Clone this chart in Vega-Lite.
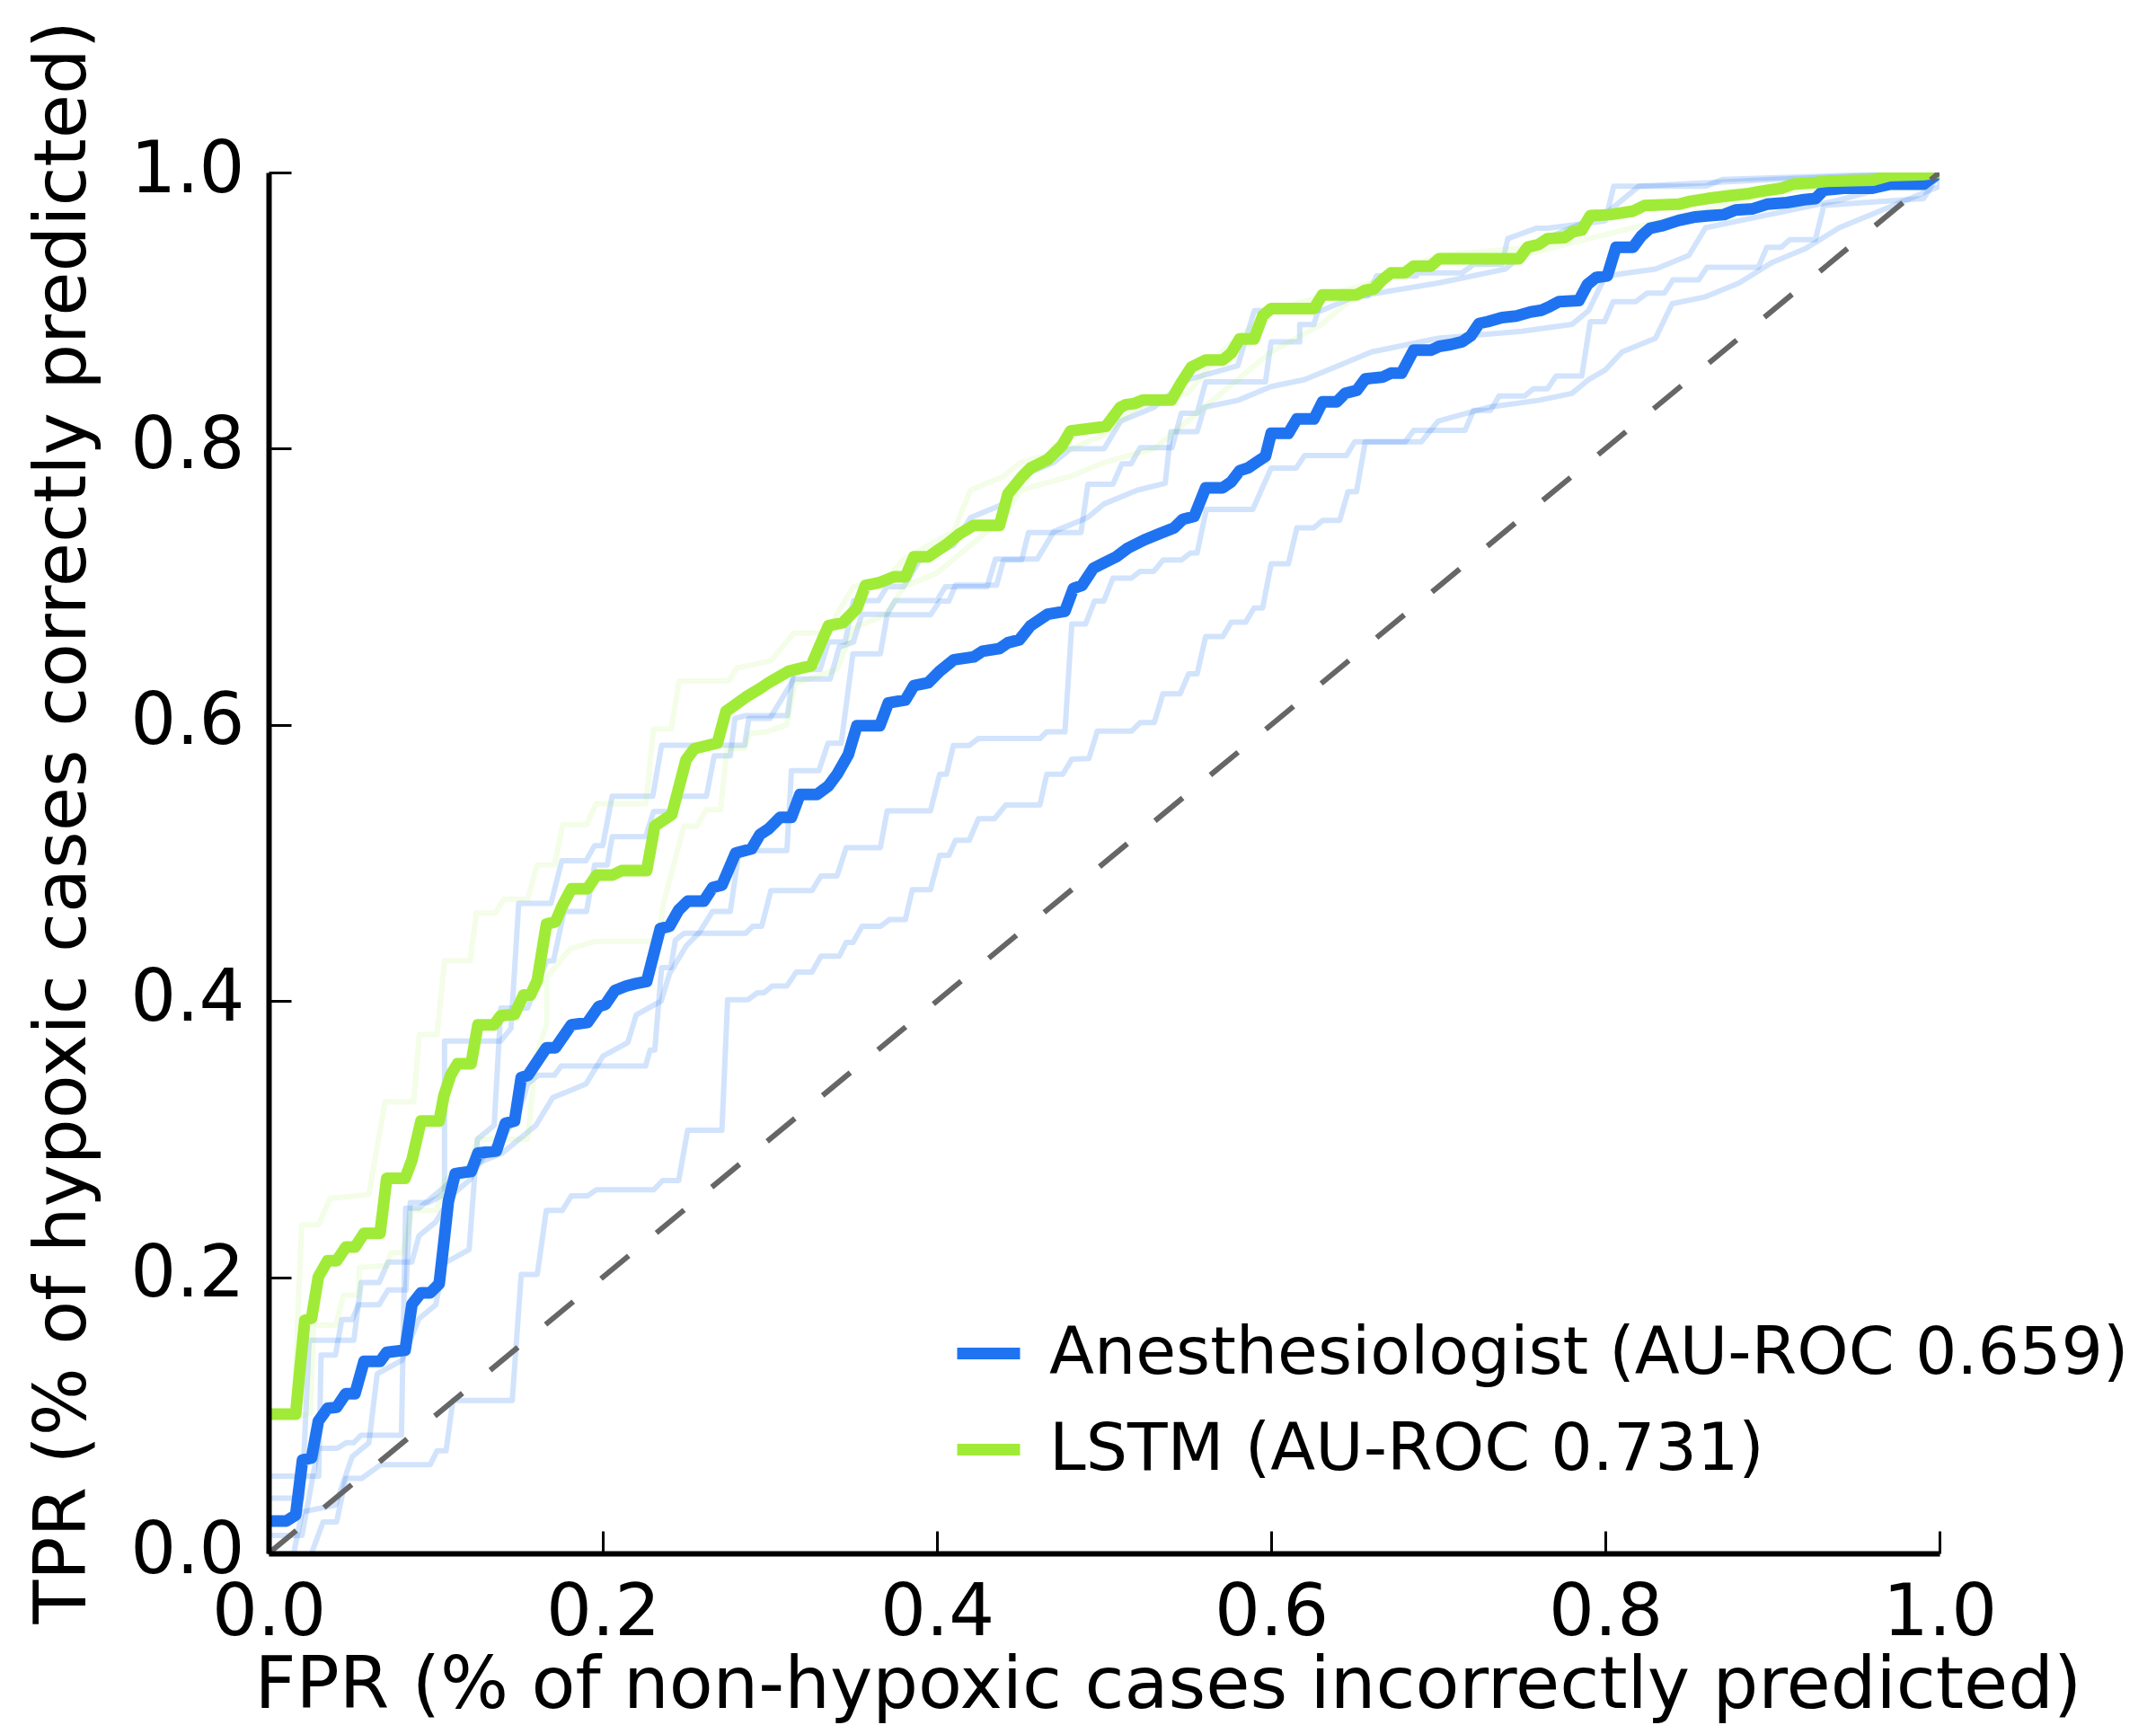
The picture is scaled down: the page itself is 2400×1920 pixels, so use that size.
{
  "$schema": "https://vega.github.io/schema/vega-lite/v6.json",
  "description": "ROC curves: anesthesiologists vs LSTM for hypoxaemia prediction",
  "width": 1860,
  "height": 1537,
  "autosize": {"type": "none"},
  "padding": {"left": 299, "top": 192, "right": 241, "bottom": 191},
  "background": "white",
  "config": {"view": {"stroke": null}, "font": "DejaVu Sans"},
  "datasets": {
    "main": [
      {"model": "Anesthesiologist (AU-ROC 0.659)", "fpr": 0, "tpr": 0.0235},
      {"model": "Anesthesiologist (AU-ROC 0.659)", "fpr": 0.0107, "tpr": 0.0235},
      {"model": "Anesthesiologist (AU-ROC 0.659)", "fpr": 0.0162, "tpr": 0.0278},
      {"model": "Anesthesiologist (AU-ROC 0.659)", "fpr": 0.0203, "tpr": 0.0676},
      {"model": "Anesthesiologist (AU-ROC 0.659)", "fpr": 0.0257, "tpr": 0.0692},
      {"model": "Anesthesiologist (AU-ROC 0.659)", "fpr": 0.0298, "tpr": 0.0958},
      {"model": "Anesthesiologist (AU-ROC 0.659)", "fpr": 0.0353, "tpr": 0.1051},
      {"model": "Anesthesiologist (AU-ROC 0.659)", "fpr": 0.0407, "tpr": 0.1058},
      {"model": "Anesthesiologist (AU-ROC 0.659)", "fpr": 0.0462, "tpr": 0.1157},
      {"model": "Anesthesiologist (AU-ROC 0.659)", "fpr": 0.0517, "tpr": 0.1157},
      {"model": "Anesthesiologist (AU-ROC 0.659)", "fpr": 0.0571, "tpr": 0.139},
      {"model": "Anesthesiologist (AU-ROC 0.659)", "fpr": 0.0667, "tpr": 0.139},
      {"model": "Anesthesiologist (AU-ROC 0.659)", "fpr": 0.0707, "tpr": 0.1456},
      {"model": "Anesthesiologist (AU-ROC 0.659)", "fpr": 0.0817, "tpr": 0.1472},
      {"model": "Anesthesiologist (AU-ROC 0.659)", "fpr": 0.0858, "tpr": 0.1804},
      {"model": "Anesthesiologist (AU-ROC 0.659)", "fpr": 0.0912, "tpr": 0.1887},
      {"model": "Anesthesiologist (AU-ROC 0.659)", "fpr": 0.0967, "tpr": 0.1887},
      {"model": "Anesthesiologist (AU-ROC 0.659)", "fpr": 0.1021, "tpr": 0.1953},
      {"model": "Anesthesiologist (AU-ROC 0.659)", "fpr": 0.1049, "tpr": 0.2252},
      {"model": "Anesthesiologist (AU-ROC 0.659)", "fpr": 0.1076, "tpr": 0.255},
      {"model": "Anesthesiologist (AU-ROC 0.659)", "fpr": 0.1117, "tpr": 0.275},
      {"model": "Anesthesiologist (AU-ROC 0.659)", "fpr": 0.1212, "tpr": 0.2766},
      {"model": "Anesthesiologist (AU-ROC 0.659)", "fpr": 0.1253, "tpr": 0.2899},
      {"model": "Anesthesiologist (AU-ROC 0.659)", "fpr": 0.1363, "tpr": 0.2915},
      {"model": "Anesthesiologist (AU-ROC 0.659)", "fpr": 0.1417, "tpr": 0.3114},
      {"model": "Anesthesiologist (AU-ROC 0.659)", "fpr": 0.1472, "tpr": 0.3131},
      {"model": "Anesthesiologist (AU-ROC 0.659)", "fpr": 0.1512, "tpr": 0.3446},
      {"model": "Anesthesiologist (AU-ROC 0.659)", "fpr": 0.1553, "tpr": 0.3463},
      {"model": "Anesthesiologist (AU-ROC 0.659)", "fpr": 0.1663, "tpr": 0.3662},
      {"model": "Anesthesiologist (AU-ROC 0.659)", "fpr": 0.1717, "tpr": 0.3662},
      {"model": "Anesthesiologist (AU-ROC 0.659)", "fpr": 0.1812, "tpr": 0.3828},
      {"model": "Anesthesiologist (AU-ROC 0.659)", "fpr": 0.1908, "tpr": 0.3844},
      {"model": "Anesthesiologist (AU-ROC 0.659)", "fpr": 0.1976, "tpr": 0.396},
      {"model": "Anesthesiologist (AU-ROC 0.659)", "fpr": 0.2017, "tpr": 0.3977},
      {"model": "Anesthesiologist (AU-ROC 0.659)", "fpr": 0.2072, "tpr": 0.4076},
      {"model": "Anesthesiologist (AU-ROC 0.659)", "fpr": 0.214, "tpr": 0.4109},
      {"model": "Anesthesiologist (AU-ROC 0.659)", "fpr": 0.2195, "tpr": 0.4126},
      {"model": "Anesthesiologist (AU-ROC 0.659)", "fpr": 0.2263, "tpr": 0.4142},
      {"model": "Anesthesiologist (AU-ROC 0.659)", "fpr": 0.2344, "tpr": 0.4524},
      {"model": "Anesthesiologist (AU-ROC 0.659)", "fpr": 0.2399, "tpr": 0.4541},
      {"model": "Anesthesiologist (AU-ROC 0.659)", "fpr": 0.2453, "tpr": 0.4657},
      {"model": "Anesthesiologist (AU-ROC 0.659)", "fpr": 0.2508, "tpr": 0.4723},
      {"model": "Anesthesiologist (AU-ROC 0.659)", "fpr": 0.2604, "tpr": 0.4723},
      {"model": "Anesthesiologist (AU-ROC 0.659)", "fpr": 0.2658, "tpr": 0.4823},
      {"model": "Anesthesiologist (AU-ROC 0.659)", "fpr": 0.2713, "tpr": 0.4839},
      {"model": "Anesthesiologist (AU-ROC 0.659)", "fpr": 0.2795, "tpr": 0.5072},
      {"model": "Anesthesiologist (AU-ROC 0.659)", "fpr": 0.289, "tpr": 0.5102},
      {"model": "Anesthesiologist (AU-ROC 0.659)", "fpr": 0.2941, "tpr": 0.5206},
      {"model": "Anesthesiologist (AU-ROC 0.659)", "fpr": 0.2993, "tpr": 0.5247},
      {"model": "Anesthesiologist (AU-ROC 0.659)", "fpr": 0.3061, "tpr": 0.533},
      {"model": "Anesthesiologist (AU-ROC 0.659)", "fpr": 0.3129, "tpr": 0.533},
      {"model": "Anesthesiologist (AU-ROC 0.659)", "fpr": 0.318, "tpr": 0.5496},
      {"model": "Anesthesiologist (AU-ROC 0.659)", "fpr": 0.3282, "tpr": 0.5496},
      {"model": "Anesthesiologist (AU-ROC 0.659)", "fpr": 0.3351, "tpr": 0.5558},
      {"model": "Anesthesiologist (AU-ROC 0.659)", "fpr": 0.3402, "tpr": 0.5641},
      {"model": "Anesthesiologist (AU-ROC 0.659)", "fpr": 0.347, "tpr": 0.5786},
      {"model": "Anesthesiologist (AU-ROC 0.659)", "fpr": 0.3521, "tpr": 0.5994},
      {"model": "Anesthesiologist (AU-ROC 0.659)", "fpr": 0.3658, "tpr": 0.5994},
      {"model": "Anesthesiologist (AU-ROC 0.659)", "fpr": 0.3709, "tpr": 0.6159},
      {"model": "Anesthesiologist (AU-ROC 0.659)", "fpr": 0.3811, "tpr": 0.618},
      {"model": "Anesthesiologist (AU-ROC 0.659)", "fpr": 0.3862, "tpr": 0.6284},
      {"model": "Anesthesiologist (AU-ROC 0.659)", "fpr": 0.3948, "tpr": 0.6305},
      {"model": "Anesthesiologist (AU-ROC 0.659)", "fpr": 0.4016, "tpr": 0.6388},
      {"model": "Anesthesiologist (AU-ROC 0.659)", "fpr": 0.4101, "tpr": 0.6471},
      {"model": "Anesthesiologist (AU-ROC 0.659)", "fpr": 0.422, "tpr": 0.6492},
      {"model": "Anesthesiologist (AU-ROC 0.659)", "fpr": 0.4272, "tpr": 0.6533},
      {"model": "Anesthesiologist (AU-ROC 0.659)", "fpr": 0.4374, "tpr": 0.6553},
      {"model": "Anesthesiologist (AU-ROC 0.659)", "fpr": 0.4425, "tpr": 0.6595},
      {"model": "Anesthesiologist (AU-ROC 0.659)", "fpr": 0.4493, "tpr": 0.6616},
      {"model": "Anesthesiologist (AU-ROC 0.659)", "fpr": 0.4561, "tpr": 0.6719},
      {"model": "Anesthesiologist (AU-ROC 0.659)", "fpr": 0.4664, "tpr": 0.6802},
      {"model": "Anesthesiologist (AU-ROC 0.659)", "fpr": 0.4766, "tpr": 0.6823},
      {"model": "Anesthesiologist (AU-ROC 0.659)", "fpr": 0.4817, "tpr": 0.6989},
      {"model": "Anesthesiologist (AU-ROC 0.659)", "fpr": 0.4868, "tpr": 0.701},
      {"model": "Anesthesiologist (AU-ROC 0.659)", "fpr": 0.4936, "tpr": 0.7134},
      {"model": "Anesthesiologist (AU-ROC 0.659)", "fpr": 0.5005, "tpr": 0.7176},
      {"model": "Anesthesiologist (AU-ROC 0.659)", "fpr": 0.5073, "tpr": 0.7217},
      {"model": "Anesthesiologist (AU-ROC 0.659)", "fpr": 0.5141, "tpr": 0.7279},
      {"model": "Anesthesiologist (AU-ROC 0.659)", "fpr": 0.5243, "tpr": 0.7341},
      {"model": "Anesthesiologist (AU-ROC 0.659)", "fpr": 0.5335, "tpr": 0.7386},
      {"model": "Anesthesiologist (AU-ROC 0.659)", "fpr": 0.542, "tpr": 0.7427},
      {"model": "Anesthesiologist (AU-ROC 0.659)", "fpr": 0.5472, "tpr": 0.7489},
      {"model": "Anesthesiologist (AU-ROC 0.659)", "fpr": 0.554, "tpr": 0.751},
      {"model": "Anesthesiologist (AU-ROC 0.659)", "fpr": 0.5608, "tpr": 0.7717},
      {"model": "Anesthesiologist (AU-ROC 0.659)", "fpr": 0.571, "tpr": 0.7717},
      {"model": "Anesthesiologist (AU-ROC 0.659)", "fpr": 0.5761, "tpr": 0.7759},
      {"model": "Anesthesiologist (AU-ROC 0.659)", "fpr": 0.5812, "tpr": 0.7841},
      {"model": "Anesthesiologist (AU-ROC 0.659)", "fpr": 0.5864, "tpr": 0.7862},
      {"model": "Anesthesiologist (AU-ROC 0.659)", "fpr": 0.5915, "tpr": 0.7904},
      {"model": "Anesthesiologist (AU-ROC 0.659)", "fpr": 0.5966, "tpr": 0.7945},
      {"model": "Anesthesiologist (AU-ROC 0.659)", "fpr": 0.6, "tpr": 0.8111},
      {"model": "Anesthesiologist (AU-ROC 0.659)", "fpr": 0.6103, "tpr": 0.8111},
      {"model": "Anesthesiologist (AU-ROC 0.659)", "fpr": 0.6154, "tpr": 0.8215},
      {"model": "Anesthesiologist (AU-ROC 0.659)", "fpr": 0.6256, "tpr": 0.8215},
      {"model": "Anesthesiologist (AU-ROC 0.659)", "fpr": 0.6307, "tpr": 0.8339},
      {"model": "Anesthesiologist (AU-ROC 0.659)", "fpr": 0.6393, "tpr": 0.8339},
      {"model": "Anesthesiologist (AU-ROC 0.659)", "fpr": 0.6443, "tpr": 0.8401},
      {"model": "Anesthesiologist (AU-ROC 0.659)", "fpr": 0.6512, "tpr": 0.8422},
      {"model": "Anesthesiologist (AU-ROC 0.659)", "fpr": 0.6563, "tpr": 0.8505},
      {"model": "Anesthesiologist (AU-ROC 0.659)", "fpr": 0.6665, "tpr": 0.8518},
      {"model": "Anesthesiologist (AU-ROC 0.659)", "fpr": 0.6717, "tpr": 0.8547},
      {"model": "Anesthesiologist (AU-ROC 0.659)", "fpr": 0.678, "tpr": 0.8547},
      {"model": "Anesthesiologist (AU-ROC 0.659)", "fpr": 0.6853, "tpr": 0.8713},
      {"model": "Anesthesiologist (AU-ROC 0.659)", "fpr": 0.6955, "tpr": 0.8713},
      {"model": "Anesthesiologist (AU-ROC 0.659)", "fpr": 0.7006, "tpr": 0.8741},
      {"model": "Anesthesiologist (AU-ROC 0.659)", "fpr": 0.7074, "tpr": 0.8754},
      {"model": "Anesthesiologist (AU-ROC 0.659)", "fpr": 0.7143, "tpr": 0.8774},
      {"model": "Anesthesiologist (AU-ROC 0.659)", "fpr": 0.7194, "tpr": 0.8816},
      {"model": "Anesthesiologist (AU-ROC 0.659)", "fpr": 0.7245, "tpr": 0.8907},
      {"model": "Anesthesiologist (AU-ROC 0.659)", "fpr": 0.7296, "tpr": 0.892},
      {"model": "Anesthesiologist (AU-ROC 0.659)", "fpr": 0.7381, "tpr": 0.8949},
      {"model": "Anesthesiologist (AU-ROC 0.659)", "fpr": 0.7467, "tpr": 0.8961},
      {"model": "Anesthesiologist (AU-ROC 0.659)", "fpr": 0.7552, "tpr": 0.899},
      {"model": "Anesthesiologist (AU-ROC 0.659)", "fpr": 0.762, "tpr": 0.9003},
      {"model": "Anesthesiologist (AU-ROC 0.659)", "fpr": 0.7671, "tpr": 0.9032},
      {"model": "Anesthesiologist (AU-ROC 0.659)", "fpr": 0.7722, "tpr": 0.9065},
      {"model": "Anesthesiologist (AU-ROC 0.659)", "fpr": 0.7842, "tpr": 0.9073},
      {"model": "Anesthesiologist (AU-ROC 0.659)", "fpr": 0.7893, "tpr": 0.9189},
      {"model": "Anesthesiologist (AU-ROC 0.659)", "fpr": 0.7944, "tpr": 0.9239},
      {"model": "Anesthesiologist (AU-ROC 0.659)", "fpr": 0.8012, "tpr": 0.9252},
      {"model": "Anesthesiologist (AU-ROC 0.659)", "fpr": 0.8064, "tpr": 0.9459},
      {"model": "Anesthesiologist (AU-ROC 0.659)", "fpr": 0.8166, "tpr": 0.9459},
      {"model": "Anesthesiologist (AU-ROC 0.659)", "fpr": 0.8217, "tpr": 0.9542},
      {"model": "Anesthesiologist (AU-ROC 0.659)", "fpr": 0.8268, "tpr": 0.9596},
      {"model": "Anesthesiologist (AU-ROC 0.659)", "fpr": 0.8336, "tpr": 0.9613},
      {"model": "Anesthesiologist (AU-ROC 0.659)", "fpr": 0.8439, "tpr": 0.9653},
      {"model": "Anesthesiologist (AU-ROC 0.659)", "fpr": 0.854, "tpr": 0.9678},
      {"model": "Anesthesiologist (AU-ROC 0.659)", "fpr": 0.8609, "tpr": 0.9686},
      {"model": "Anesthesiologist (AU-ROC 0.659)", "fpr": 0.871, "tpr": 0.9695},
      {"model": "Anesthesiologist (AU-ROC 0.659)", "fpr": 0.8779, "tpr": 0.9728},
      {"model": "Anesthesiologist (AU-ROC 0.659)", "fpr": 0.8882, "tpr": 0.9737},
      {"model": "Anesthesiologist (AU-ROC 0.659)", "fpr": 0.8967, "tpr": 0.977},
      {"model": "Anesthesiologist (AU-ROC 0.659)", "fpr": 0.9087, "tpr": 0.9782},
      {"model": "Anesthesiologist (AU-ROC 0.659)", "fpr": 0.9189, "tpr": 0.9803},
      {"model": "Anesthesiologist (AU-ROC 0.659)", "fpr": 0.9257, "tpr": 0.9811},
      {"model": "Anesthesiologist (AU-ROC 0.659)", "fpr": 0.9308, "tpr": 0.9873},
      {"model": "Anesthesiologist (AU-ROC 0.659)", "fpr": 0.9428, "tpr": 0.9886},
      {"model": "Anesthesiologist (AU-ROC 0.659)", "fpr": 0.9598, "tpr": 0.9886},
      {"model": "Anesthesiologist (AU-ROC 0.659)", "fpr": 0.97, "tpr": 0.9915},
      {"model": "Anesthesiologist (AU-ROC 0.659)", "fpr": 0.9905, "tpr": 0.9915},
      {"model": "Anesthesiologist (AU-ROC 0.659)", "fpr": 1, "tpr": 1},
      {"model": "LSTM (AU-ROC 0.731)", "fpr": 0, "tpr": 0.1008},
      {"model": "LSTM (AU-ROC 0.731)", "fpr": 0.0162, "tpr": 0.1008},
      {"model": "LSTM (AU-ROC 0.731)", "fpr": 0.0189, "tpr": 0.1356},
      {"model": "LSTM (AU-ROC 0.731)", "fpr": 0.0217, "tpr": 0.1688},
      {"model": "LSTM (AU-ROC 0.731)", "fpr": 0.0257, "tpr": 0.1704},
      {"model": "LSTM (AU-ROC 0.731)", "fpr": 0.0298, "tpr": 0.2003},
      {"model": "LSTM (AU-ROC 0.731)", "fpr": 0.0353, "tpr": 0.2119},
      {"model": "LSTM (AU-ROC 0.731)", "fpr": 0.0407, "tpr": 0.2119},
      {"model": "LSTM (AU-ROC 0.731)", "fpr": 0.0462, "tpr": 0.2218},
      {"model": "LSTM (AU-ROC 0.731)", "fpr": 0.0517, "tpr": 0.2218},
      {"model": "LSTM (AU-ROC 0.731)", "fpr": 0.0571, "tpr": 0.2318},
      {"model": "LSTM (AU-ROC 0.731)", "fpr": 0.0667, "tpr": 0.2318},
      {"model": "LSTM (AU-ROC 0.731)", "fpr": 0.0707, "tpr": 0.2716},
      {"model": "LSTM (AU-ROC 0.731)", "fpr": 0.0817, "tpr": 0.2716},
      {"model": "LSTM (AU-ROC 0.731)", "fpr": 0.0858, "tpr": 0.2849},
      {"model": "LSTM (AU-ROC 0.731)", "fpr": 0.0912, "tpr": 0.3131},
      {"model": "LSTM (AU-ROC 0.731)", "fpr": 0.1021, "tpr": 0.3131},
      {"model": "LSTM (AU-ROC 0.731)", "fpr": 0.1049, "tpr": 0.3313},
      {"model": "LSTM (AU-ROC 0.731)", "fpr": 0.1089, "tpr": 0.3463},
      {"model": "LSTM (AU-ROC 0.731)", "fpr": 0.113, "tpr": 0.3546},
      {"model": "LSTM (AU-ROC 0.731)", "fpr": 0.1212, "tpr": 0.3546},
      {"model": "LSTM (AU-ROC 0.731)", "fpr": 0.1253, "tpr": 0.3828},
      {"model": "LSTM (AU-ROC 0.731)", "fpr": 0.1349, "tpr": 0.3828},
      {"model": "LSTM (AU-ROC 0.731)", "fpr": 0.139, "tpr": 0.3894},
      {"model": "LSTM (AU-ROC 0.731)", "fpr": 0.1472, "tpr": 0.3904},
      {"model": "LSTM (AU-ROC 0.731)", "fpr": 0.1526, "tpr": 0.4043},
      {"model": "LSTM (AU-ROC 0.731)", "fpr": 0.1567, "tpr": 0.4043},
      {"model": "LSTM (AU-ROC 0.731)", "fpr": 0.1608, "tpr": 0.415},
      {"model": "LSTM (AU-ROC 0.731)", "fpr": 0.1663, "tpr": 0.4557},
      {"model": "LSTM (AU-ROC 0.731)", "fpr": 0.1717, "tpr": 0.4574},
      {"model": "LSTM (AU-ROC 0.731)", "fpr": 0.1758, "tpr": 0.469},
      {"model": "LSTM (AU-ROC 0.731)", "fpr": 0.1812, "tpr": 0.4813},
      {"model": "LSTM (AU-ROC 0.731)", "fpr": 0.1908, "tpr": 0.4813},
      {"model": "LSTM (AU-ROC 0.731)", "fpr": 0.1963, "tpr": 0.4912},
      {"model": "LSTM (AU-ROC 0.731)", "fpr": 0.2058, "tpr": 0.4912},
      {"model": "LSTM (AU-ROC 0.731)", "fpr": 0.2113, "tpr": 0.4945},
      {"model": "LSTM (AU-ROC 0.731)", "fpr": 0.2263, "tpr": 0.4945},
      {"model": "LSTM (AU-ROC 0.731)", "fpr": 0.2311, "tpr": 0.5268},
      {"model": "LSTM (AU-ROC 0.731)", "fpr": 0.2413, "tpr": 0.5351},
      {"model": "LSTM (AU-ROC 0.731)", "fpr": 0.2498, "tpr": 0.5745},
      {"model": "LSTM (AU-ROC 0.731)", "fpr": 0.2549, "tpr": 0.5828},
      {"model": "LSTM (AU-ROC 0.731)", "fpr": 0.2686, "tpr": 0.5869},
      {"model": "LSTM (AU-ROC 0.731)", "fpr": 0.2737, "tpr": 0.6097},
      {"model": "LSTM (AU-ROC 0.731)", "fpr": 0.2856, "tpr": 0.6201},
      {"model": "LSTM (AU-ROC 0.731)", "fpr": 0.2941, "tpr": 0.6263},
      {"model": "LSTM (AU-ROC 0.731)", "fpr": 0.2993, "tpr": 0.6305},
      {"model": "LSTM (AU-ROC 0.731)", "fpr": 0.3112, "tpr": 0.6388},
      {"model": "LSTM (AU-ROC 0.731)", "fpr": 0.3248, "tpr": 0.6429},
      {"model": "LSTM (AU-ROC 0.731)", "fpr": 0.3299, "tpr": 0.6574},
      {"model": "LSTM (AU-ROC 0.731)", "fpr": 0.3351, "tpr": 0.6719},
      {"model": "LSTM (AU-ROC 0.731)", "fpr": 0.3436, "tpr": 0.674},
      {"model": "LSTM (AU-ROC 0.731)", "fpr": 0.3521, "tpr": 0.6844},
      {"model": "LSTM (AU-ROC 0.731)", "fpr": 0.3572, "tpr": 0.701},
      {"model": "LSTM (AU-ROC 0.731)", "fpr": 0.3658, "tpr": 0.7031},
      {"model": "LSTM (AU-ROC 0.731)", "fpr": 0.3743, "tpr": 0.7072},
      {"model": "LSTM (AU-ROC 0.731)", "fpr": 0.3811, "tpr": 0.7072},
      {"model": "LSTM (AU-ROC 0.731)", "fpr": 0.3862, "tpr": 0.7217},
      {"model": "LSTM (AU-ROC 0.731)", "fpr": 0.3948, "tpr": 0.7217},
      {"model": "LSTM (AU-ROC 0.731)", "fpr": 0.3998, "tpr": 0.7259},
      {"model": "LSTM (AU-ROC 0.731)", "fpr": 0.405, "tpr": 0.73},
      {"model": "LSTM (AU-ROC 0.731)", "fpr": 0.4135, "tpr": 0.7383},
      {"model": "LSTM (AU-ROC 0.731)", "fpr": 0.422, "tpr": 0.7445},
      {"model": "LSTM (AU-ROC 0.731)", "fpr": 0.4374, "tpr": 0.7445},
      {"model": "LSTM (AU-ROC 0.731)", "fpr": 0.4425, "tpr": 0.7673},
      {"model": "LSTM (AU-ROC 0.731)", "fpr": 0.451, "tpr": 0.7798},
      {"model": "LSTM (AU-ROC 0.731)", "fpr": 0.4561, "tpr": 0.786},
      {"model": "LSTM (AU-ROC 0.731)", "fpr": 0.4664, "tpr": 0.7922},
      {"model": "LSTM (AU-ROC 0.731)", "fpr": 0.4749, "tpr": 0.8025},
      {"model": "LSTM (AU-ROC 0.731)", "fpr": 0.48, "tpr": 0.8129},
      {"model": "LSTM (AU-ROC 0.731)", "fpr": 0.4936, "tpr": 0.815},
      {"model": "LSTM (AU-ROC 0.731)", "fpr": 0.5011, "tpr": 0.8161},
      {"model": "LSTM (AU-ROC 0.731)", "fpr": 0.5096, "tpr": 0.8298},
      {"model": "LSTM (AU-ROC 0.731)", "fpr": 0.5131, "tpr": 0.8319},
      {"model": "LSTM (AU-ROC 0.731)", "fpr": 0.5182, "tpr": 0.8327},
      {"model": "LSTM (AU-ROC 0.731)", "fpr": 0.5233, "tpr": 0.8352},
      {"model": "LSTM (AU-ROC 0.731)", "fpr": 0.5403, "tpr": 0.8352},
      {"model": "LSTM (AU-ROC 0.731)", "fpr": 0.5455, "tpr": 0.8464},
      {"model": "LSTM (AU-ROC 0.731)", "fpr": 0.5523, "tpr": 0.8591},
      {"model": "LSTM (AU-ROC 0.731)", "fpr": 0.5608, "tpr": 0.8642},
      {"model": "LSTM (AU-ROC 0.731)", "fpr": 0.571, "tpr": 0.8642},
      {"model": "LSTM (AU-ROC 0.731)", "fpr": 0.5761, "tpr": 0.8692},
      {"model": "LSTM (AU-ROC 0.731)", "fpr": 0.5812, "tpr": 0.8795},
      {"model": "LSTM (AU-ROC 0.731)", "fpr": 0.5898, "tpr": 0.8795},
      {"model": "LSTM (AU-ROC 0.731)", "fpr": 0.5949, "tpr": 0.8961},
      {"model": "LSTM (AU-ROC 0.731)", "fpr": 0.6, "tpr": 0.9015},
      {"model": "LSTM (AU-ROC 0.731)", "fpr": 0.6256, "tpr": 0.9015},
      {"model": "LSTM (AU-ROC 0.731)", "fpr": 0.6307, "tpr": 0.9114},
      {"model": "LSTM (AU-ROC 0.731)", "fpr": 0.6512, "tpr": 0.9114},
      {"model": "LSTM (AU-ROC 0.731)", "fpr": 0.6563, "tpr": 0.9147},
      {"model": "LSTM (AU-ROC 0.731)", "fpr": 0.6614, "tpr": 0.9156},
      {"model": "LSTM (AU-ROC 0.731)", "fpr": 0.6665, "tpr": 0.9222},
      {"model": "LSTM (AU-ROC 0.731)", "fpr": 0.6717, "tpr": 0.9273},
      {"model": "LSTM (AU-ROC 0.731)", "fpr": 0.6801, "tpr": 0.9273},
      {"model": "LSTM (AU-ROC 0.731)", "fpr": 0.6853, "tpr": 0.9322},
      {"model": "LSTM (AU-ROC 0.731)", "fpr": 0.6955, "tpr": 0.9322},
      {"model": "LSTM (AU-ROC 0.731)", "fpr": 0.7006, "tpr": 0.9376},
      {"model": "LSTM (AU-ROC 0.731)", "fpr": 0.7484, "tpr": 0.9376},
      {"model": "LSTM (AU-ROC 0.731)", "fpr": 0.7535, "tpr": 0.9459},
      {"model": "LSTM (AU-ROC 0.731)", "fpr": 0.7603, "tpr": 0.948},
      {"model": "LSTM (AU-ROC 0.731)", "fpr": 0.7654, "tpr": 0.9521},
      {"model": "LSTM (AU-ROC 0.731)", "fpr": 0.7757, "tpr": 0.9529},
      {"model": "LSTM (AU-ROC 0.731)", "fpr": 0.7807, "tpr": 0.9571},
      {"model": "LSTM (AU-ROC 0.731)", "fpr": 0.7859, "tpr": 0.9583},
      {"model": "LSTM (AU-ROC 0.731)", "fpr": 0.791, "tpr": 0.9687},
      {"model": "LSTM (AU-ROC 0.731)", "fpr": 0.8029, "tpr": 0.9695},
      {"model": "LSTM (AU-ROC 0.731)", "fpr": 0.8166, "tpr": 0.972},
      {"model": "LSTM (AU-ROC 0.731)", "fpr": 0.8234, "tpr": 0.9761},
      {"model": "LSTM (AU-ROC 0.731)", "fpr": 0.8439, "tpr": 0.977},
      {"model": "LSTM (AU-ROC 0.731)", "fpr": 0.8507, "tpr": 0.9791},
      {"model": "LSTM (AU-ROC 0.731)", "fpr": 0.8609, "tpr": 0.9811},
      {"model": "LSTM (AU-ROC 0.731)", "fpr": 0.8746, "tpr": 0.9832},
      {"model": "LSTM (AU-ROC 0.731)", "fpr": 0.8848, "tpr": 0.9845},
      {"model": "LSTM (AU-ROC 0.731)", "fpr": 0.8916, "tpr": 0.9861},
      {"model": "LSTM (AU-ROC 0.731)", "fpr": 0.9053, "tpr": 0.9886},
      {"model": "LSTM (AU-ROC 0.731)", "fpr": 0.9121, "tpr": 0.9915},
      {"model": "LSTM (AU-ROC 0.731)", "fpr": 0.9257, "tpr": 0.9927},
      {"model": "LSTM (AU-ROC 0.731)", "fpr": 0.9325, "tpr": 0.9936},
      {"model": "LSTM (AU-ROC 0.731)", "fpr": 0.9598, "tpr": 0.9944},
      {"model": "LSTM (AU-ROC 0.731)", "fpr": 0.97, "tpr": 0.9977},
      {"model": "LSTM (AU-ROC 0.731)", "fpr": 0.9905, "tpr": 0.9985},
      {"model": "LSTM (AU-ROC 0.731)", "fpr": 1, "tpr": 1}
    ],
    "raters": [
      {"rater": "A", "fpr": 0.0257, "tpr": 0}, {"rater": "A", "fpr": 0.0326, "tpr": 0.0228}, {"rater": "A", "fpr": 0.0407, "tpr": 0.0228},
      {"rater": "A", "fpr": 0.0462, "tpr": 0.0543}, {"rater": "A", "fpr": 0.0557, "tpr": 0.0543}, {"rater": "A", "fpr": 0.0672, "tpr": 0.0643},
      {"rater": "A", "fpr": 0.0967, "tpr": 0.0643}, {"rater": "A", "fpr": 0.1008, "tpr": 0.0743}, {"rater": "A", "fpr": 0.1062, "tpr": 0.0743},
      {"rater": "A", "fpr": 0.1103, "tpr": 0.1107}, {"rater": "A", "fpr": 0.1458, "tpr": 0.1107}, {"rater": "A", "fpr": 0.1512, "tpr": 0.202},
      {"rater": "A", "fpr": 0.1608, "tpr": 0.202}, {"rater": "A", "fpr": 0.1662, "tpr": 0.2484}, {"rater": "A", "fpr": 0.1758, "tpr": 0.2484},
      {"rater": "A", "fpr": 0.1812, "tpr": 0.259}, {"rater": "A", "fpr": 0.1908, "tpr": 0.259}, {"rater": "A", "fpr": 0.1962, "tpr": 0.2633},
      {"rater": "A", "fpr": 0.2304, "tpr": 0.2633}, {"rater": "A", "fpr": 0.2358, "tpr": 0.27}, {"rater": "A", "fpr": 0.2454, "tpr": 0.27},
      {"rater": "A", "fpr": 0.2508, "tpr": 0.3065}, {"rater": "A", "fpr": 0.2713, "tpr": 0.3065}, {"rater": "A", "fpr": 0.2747, "tpr": 0.401},
      {"rater": "A", "fpr": 0.287, "tpr": 0.401}, {"rater": "A", "fpr": 0.2925, "tpr": 0.406}, {"rater": "A", "fpr": 0.2965, "tpr": 0.406},
      {"rater": "A", "fpr": 0.3013, "tpr": 0.4109}, {"rater": "A", "fpr": 0.3102, "tpr": 0.4109}, {"rater": "A", "fpr": 0.3157, "tpr": 0.4209},
      {"rater": "A", "fpr": 0.3252, "tpr": 0.4209}, {"rater": "A", "fpr": 0.3306, "tpr": 0.4325}, {"rater": "A", "fpr": 0.3416, "tpr": 0.4325},
      {"rater": "A", "fpr": 0.3457, "tpr": 0.4425}, {"rater": "A", "fpr": 0.3498, "tpr": 0.4425}, {"rater": "A", "fpr": 0.3552, "tpr": 0.4541},
      {"rater": "A", "fpr": 0.3661, "tpr": 0.4541}, {"rater": "A", "fpr": 0.3716, "tpr": 0.459}, {"rater": "A", "fpr": 0.3811, "tpr": 0.459},
      {"rater": "A", "fpr": 0.3852, "tpr": 0.4806}, {"rater": "A", "fpr": 0.3961, "tpr": 0.4806}, {"rater": "A", "fpr": 0.4016, "tpr": 0.5055},
      {"rater": "A", "fpr": 0.4071, "tpr": 0.5055}, {"rater": "A", "fpr": 0.4111, "tpr": 0.5164}, {"rater": "A", "fpr": 0.4193, "tpr": 0.5164},
      {"rater": "A", "fpr": 0.4248, "tpr": 0.532}, {"rater": "A", "fpr": 0.4344, "tpr": 0.532}, {"rater": "A", "fpr": 0.4412, "tpr": 0.542},
      {"rater": "A", "fpr": 0.4616, "tpr": 0.542}, {"rater": "A", "fpr": 0.4657, "tpr": 0.5642}, {"rater": "A", "fpr": 0.4753, "tpr": 0.5642},
      {"rater": "A", "fpr": 0.4807, "tpr": 0.5752}, {"rater": "A", "fpr": 0.4909, "tpr": 0.5756}, {"rater": "A", "fpr": 0.496, "tpr": 0.5955},
      {"rater": "A", "fpr": 0.5165, "tpr": 0.5955}, {"rater": "A", "fpr": 0.5217, "tpr": 0.6017}, {"rater": "A", "fpr": 0.5301, "tpr": 0.6017},
      {"rater": "A", "fpr": 0.5352, "tpr": 0.6224}, {"rater": "A", "fpr": 0.5455, "tpr": 0.6224}, {"rater": "A", "fpr": 0.5506, "tpr": 0.6369},
      {"rater": "A", "fpr": 0.5557, "tpr": 0.6369}, {"rater": "A", "fpr": 0.5608, "tpr": 0.6639}, {"rater": "A", "fpr": 0.5711, "tpr": 0.6639},
      {"rater": "A", "fpr": 0.5761, "tpr": 0.6743}, {"rater": "A", "fpr": 0.5847, "tpr": 0.6743}, {"rater": "A", "fpr": 0.5898, "tpr": 0.6846},
      {"rater": "A", "fpr": 0.5949, "tpr": 0.6846}, {"rater": "A", "fpr": 0.6, "tpr": 0.7166}, {"rater": "A", "fpr": 0.6103, "tpr": 0.7166},
      {"rater": "A", "fpr": 0.6154, "tpr": 0.7427}, {"rater": "A", "fpr": 0.6256, "tpr": 0.7427}, {"rater": "A", "fpr": 0.6307, "tpr": 0.7481},
      {"rater": "A", "fpr": 0.641, "tpr": 0.7481}, {"rater": "A", "fpr": 0.646, "tpr": 0.7688}, {"rater": "A", "fpr": 0.6511, "tpr": 0.7688},
      {"rater": "A", "fpr": 0.6563, "tpr": 0.8049}, {"rater": "A", "fpr": 0.6802, "tpr": 0.8049}, {"rater": "A", "fpr": 0.6853, "tpr": 0.8132},
      {"rater": "A", "fpr": 0.716, "tpr": 0.8132}, {"rater": "A", "fpr": 0.7211, "tpr": 0.8277}, {"rater": "A", "fpr": 0.7313, "tpr": 0.8277},
      {"rater": "A", "fpr": 0.7364, "tpr": 0.8381}, {"rater": "A", "fpr": 0.7518, "tpr": 0.8381}, {"rater": "A", "fpr": 0.7569, "tpr": 0.8434},
      {"rater": "A", "fpr": 0.7654, "tpr": 0.8434}, {"rater": "A", "fpr": 0.7705, "tpr": 0.8526}, {"rater": "A", "fpr": 0.7859, "tpr": 0.8526},
      {"rater": "A", "fpr": 0.791, "tpr": 0.892}, {"rater": "A", "fpr": 0.7995, "tpr": 0.892}, {"rater": "A", "fpr": 0.8047, "tpr": 0.9065},
      {"rater": "A", "fpr": 0.8183, "tpr": 0.9065}, {"rater": "A", "fpr": 0.8251, "tpr": 0.9127}, {"rater": "A", "fpr": 0.8354, "tpr": 0.9127},
      {"rater": "A", "fpr": 0.8404, "tpr": 0.9222}, {"rater": "A", "fpr": 0.8558, "tpr": 0.9222}, {"rater": "A", "fpr": 0.8609, "tpr": 0.9314},
      {"rater": "A", "fpr": 0.8916, "tpr": 0.9314}, {"rater": "A", "fpr": 0.8967, "tpr": 0.9459}, {"rater": "A", "fpr": 0.9053, "tpr": 0.9459},
      {"rater": "A", "fpr": 0.9104, "tpr": 0.9513}, {"rater": "A", "fpr": 0.9257, "tpr": 0.9513}, {"rater": "A", "fpr": 0.9308, "tpr": 0.9761},
      {"rater": "A", "fpr": 0.9905, "tpr": 0.9811}, {"rater": "A", "fpr": 1, "tpr": 1},

      {"rater": "B", "fpr": 0, "tpr": 0.04}, {"rater": "B", "fpr": 0.02, "tpr": 0.04}, {"rater": "B", "fpr": 0.0242, "tpr": 0.1544},
      {"rater": "B", "fpr": 0.051, "tpr": 0.1544}, {"rater": "B", "fpr": 0.0554, "tpr": 0.1962}, {"rater": "B", "fpr": 0.0661, "tpr": 0.1962},
      {"rater": "B", "fpr": 0.0715, "tpr": 0.211}, {"rater": "B", "fpr": 0.0857, "tpr": 0.211}, {"rater": "B", "fpr": 0.09, "tpr": 0.23},
      {"rater": "B", "fpr": 0.1, "tpr": 0.24}, {"rater": "B", "fpr": 0.11, "tpr": 0.26}, {"rater": "B", "fpr": 0.12, "tpr": 0.27},
      {"rater": "B", "fpr": 0.13, "tpr": 0.29}, {"rater": "B", "fpr": 0.14, "tpr": 0.3}, {"rater": "B", "fpr": 0.15, "tpr": 0.32},
      {"rater": "B", "fpr": 0.155, "tpr": 0.34}, {"rater": "B", "fpr": 0.1615, "tpr": 0.3463}, {"rater": "B", "fpr": 0.1711, "tpr": 0.3463},
      {"rater": "B", "fpr": 0.1751, "tpr": 0.3529}, {"rater": "B", "fpr": 0.2256, "tpr": 0.3529}, {"rater": "B", "fpr": 0.2283, "tpr": 0.3645},
      {"rater": "B", "fpr": 0.2311, "tpr": 0.3645}, {"rater": "B", "fpr": 0.2352, "tpr": 0.4242}, {"rater": "B", "fpr": 0.2407, "tpr": 0.4242},
      {"rater": "B", "fpr": 0.2434, "tpr": 0.4441}, {"rater": "B", "fpr": 0.2488, "tpr": 0.4491}, {"rater": "B", "fpr": 0.2856, "tpr": 0.4491},
      {"rater": "B", "fpr": 0.2897, "tpr": 0.4541}, {"rater": "B", "fpr": 0.2951, "tpr": 0.4541}, {"rater": "B", "fpr": 0.3006, "tpr": 0.48},
      {"rater": "B", "fpr": 0.3252, "tpr": 0.48}, {"rater": "B", "fpr": 0.3306, "tpr": 0.4906}, {"rater": "B", "fpr": 0.3402, "tpr": 0.4906},
      {"rater": "B", "fpr": 0.3457, "tpr": 0.5111}, {"rater": "B", "fpr": 0.3661, "tpr": 0.5111}, {"rater": "B", "fpr": 0.3702, "tpr": 0.5377},
      {"rater": "B", "fpr": 0.3961, "tpr": 0.5377}, {"rater": "B", "fpr": 0.4016, "tpr": 0.5642}, {"rater": "B", "fpr": 0.4057, "tpr": 0.5642},
      {"rater": "B", "fpr": 0.4098, "tpr": 0.5851}, {"rater": "B", "fpr": 0.4193, "tpr": 0.5851}, {"rater": "B", "fpr": 0.4248, "tpr": 0.5901},
      {"rater": "B", "fpr": 0.4616, "tpr": 0.5901}, {"rater": "B", "fpr": 0.4657, "tpr": 0.595}, {"rater": "B", "fpr": 0.4766, "tpr": 0.595},
      {"rater": "B", "fpr": 0.4807, "tpr": 0.673}, {"rater": "B", "fpr": 0.4889, "tpr": 0.673}, {"rater": "B", "fpr": 0.4943, "tpr": 0.6896},
      {"rater": "B", "fpr": 0.4998, "tpr": 0.6896}, {"rater": "B", "fpr": 0.5053, "tpr": 0.7062}, {"rater": "B", "fpr": 0.5162, "tpr": 0.7062},
      {"rater": "B", "fpr": 0.5216, "tpr": 0.7112}, {"rater": "B", "fpr": 0.5298, "tpr": 0.7112}, {"rater": "B", "fpr": 0.5353, "tpr": 0.7194},
      {"rater": "B", "fpr": 0.5462, "tpr": 0.7194}, {"rater": "B", "fpr": 0.5517, "tpr": 0.7244}, {"rater": "B", "fpr": 0.5557, "tpr": 0.7244},
      {"rater": "B", "fpr": 0.5612, "tpr": 0.756}, {"rater": "B", "fpr": 0.589, "tpr": 0.756}, {"rater": "B", "fpr": 0.6, "tpr": 0.786},
      {"rater": "B", "fpr": 0.615, "tpr": 0.786}, {"rater": "B", "fpr": 0.62, "tpr": 0.795}, {"rater": "B", "fpr": 0.645, "tpr": 0.795},
      {"rater": "B", "fpr": 0.65, "tpr": 0.805}, {"rater": "B", "fpr": 0.69, "tpr": 0.805}, {"rater": "B", "fpr": 0.7, "tpr": 0.82},
      {"rater": "B", "fpr": 0.73, "tpr": 0.83}, {"rater": "B", "fpr": 0.76, "tpr": 0.835}, {"rater": "B", "fpr": 0.78, "tpr": 0.84},
      {"rater": "B", "fpr": 0.79, "tpr": 0.85}, {"rater": "B", "fpr": 0.8, "tpr": 0.857}, {"rater": "B", "fpr": 0.81, "tpr": 0.87},
      {"rater": "B", "fpr": 0.83, "tpr": 0.88}, {"rater": "B", "fpr": 0.84, "tpr": 0.905}, {"rater": "B", "fpr": 0.86, "tpr": 0.91},
      {"rater": "B", "fpr": 0.88, "tpr": 0.92}, {"rater": "B", "fpr": 0.9, "tpr": 0.935}, {"rater": "B", "fpr": 0.92, "tpr": 0.945},
      {"rater": "B", "fpr": 0.94, "tpr": 0.96}, {"rater": "B", "fpr": 0.97, "tpr": 0.975}, {"rater": "B", "fpr": 1, "tpr": 0.99},
      {"rater": "B", "fpr": 1, "tpr": 1},

      {"rater": "C", "fpr": 0, "tpr": 0.013}, {"rater": "C", "fpr": 0.02, "tpr": 0.013}, {"rater": "C", "fpr": 0.0296, "tpr": 0.0762},
      {"rater": "C", "fpr": 0.0412, "tpr": 0.0762}, {"rater": "C", "fpr": 0.0465, "tpr": 0.0802}, {"rater": "C", "fpr": 0.051, "tpr": 0.0802},
      {"rater": "C", "fpr": 0.0554, "tpr": 0.0856}, {"rater": "C", "fpr": 0.0795, "tpr": 0.0856}, {"rater": "C", "fpr": 0.082, "tpr": 0.25},
      {"rater": "C", "fpr": 0.09, "tpr": 0.25}, {"rater": "C", "fpr": 0.1, "tpr": 0.26}, {"rater": "C", "fpr": 0.11, "tpr": 0.27},
      {"rater": "C", "fpr": 0.12, "tpr": 0.28}, {"rater": "C", "fpr": 0.14, "tpr": 0.29}, {"rater": "C", "fpr": 0.15, "tpr": 0.3},
      {"rater": "C", "fpr": 0.16, "tpr": 0.31}, {"rater": "C", "fpr": 0.17, "tpr": 0.33}, {"rater": "C", "fpr": 0.19, "tpr": 0.34},
      {"rater": "C", "fpr": 0.2, "tpr": 0.36}, {"rater": "C", "fpr": 0.215, "tpr": 0.37}, {"rater": "C", "fpr": 0.22, "tpr": 0.39},
      {"rater": "C", "fpr": 0.235, "tpr": 0.4}, {"rater": "C", "fpr": 0.24, "tpr": 0.42}, {"rater": "C", "fpr": 0.25, "tpr": 0.44},
      {"rater": "C", "fpr": 0.2578, "tpr": 0.4497}, {"rater": "C", "fpr": 0.2657, "tpr": 0.4649}, {"rater": "C", "fpr": 0.2763, "tpr": 0.4649},
      {"rater": "C", "fpr": 0.2816, "tpr": 0.509}, {"rater": "C", "fpr": 0.3102, "tpr": 0.509}, {"rater": "C", "fpr": 0.3129, "tpr": 0.5668},
      {"rater": "C", "fpr": 0.3293, "tpr": 0.5668}, {"rater": "C", "fpr": 0.3348, "tpr": 0.5867}, {"rater": "C", "fpr": 0.3427, "tpr": 0.5867},
      {"rater": "C", "fpr": 0.3497, "tpr": 0.6514}, {"rater": "C", "fpr": 0.3661, "tpr": 0.6514}, {"rater": "C", "fpr": 0.3702, "tpr": 0.6797},
      {"rater": "C", "fpr": 0.3961, "tpr": 0.6797}, {"rater": "C", "fpr": 0.4016, "tpr": 0.6896}, {"rater": "C", "fpr": 0.4071, "tpr": 0.6896},
      {"rater": "C", "fpr": 0.4111, "tpr": 0.7012}, {"rater": "C", "fpr": 0.4357, "tpr": 0.7012}, {"rater": "C", "fpr": 0.4398, "tpr": 0.7194},
      {"rater": "C", "fpr": 0.4507, "tpr": 0.7194}, {"rater": "C", "fpr": 0.4548, "tpr": 0.7393}, {"rater": "C", "fpr": 0.4862, "tpr": 0.7393},
      {"rater": "C", "fpr": 0.4903, "tpr": 0.7742}, {"rater": "C", "fpr": 0.5053, "tpr": 0.7742}, {"rater": "C", "fpr": 0.5107, "tpr": 0.7891},
      {"rater": "C", "fpr": 0.5162, "tpr": 0.7891}, {"rater": "C", "fpr": 0.5216, "tpr": 0.8007}, {"rater": "C", "fpr": 0.5407, "tpr": 0.8007},
      {"rater": "C", "fpr": 0.5462, "tpr": 0.8256}, {"rater": "C", "fpr": 0.5557, "tpr": 0.8256}, {"rater": "C", "fpr": 0.5608, "tpr": 0.8484},
      {"rater": "C", "fpr": 0.5966, "tpr": 0.8484}, {"rater": "C", "fpr": 0.6, "tpr": 0.8774}, {"rater": "C", "fpr": 0.6171, "tpr": 0.8774},
      {"rater": "C", "fpr": 0.6171, "tpr": 0.8899}, {"rater": "C", "fpr": 0.6256, "tpr": 0.8899}, {"rater": "C", "fpr": 0.6307, "tpr": 0.9106},
      {"rater": "C", "fpr": 0.658, "tpr": 0.9106}, {"rater": "C", "fpr": 0.6631, "tpr": 0.9252}, {"rater": "C", "fpr": 0.687, "tpr": 0.9252},
      {"rater": "C", "fpr": 0.687, "tpr": 0.9273}, {"rater": "C", "fpr": 0.7143, "tpr": 0.9273}, {"rater": "C", "fpr": 0.7211, "tpr": 0.9334},
      {"rater": "C", "fpr": 0.7381, "tpr": 0.9334}, {"rater": "C", "fpr": 0.7416, "tpr": 0.9521}, {"rater": "C", "fpr": 0.7586, "tpr": 0.9596},
      {"rater": "C", "fpr": 0.7654, "tpr": 0.9596}, {"rater": "C", "fpr": 0.8, "tpr": 0.965}, {"rater": "C", "fpr": 0.805, "tpr": 0.99},
      {"rater": "C", "fpr": 0.86, "tpr": 0.99}, {"rater": "C", "fpr": 0.87, "tpr": 0.995}, {"rater": "C", "fpr": 1, "tpr": 1},

      {"rater": "D", "fpr": 0, "tpr": 0.056}, {"rater": "D", "fpr": 0.03, "tpr": 0.056}, {"rater": "D", "fpr": 0.0314, "tpr": 0.1436},
      {"rater": "D", "fpr": 0.04, "tpr": 0.1436}, {"rater": "D", "fpr": 0.0438, "tpr": 0.1693}, {"rater": "D", "fpr": 0.05, "tpr": 0.1693},
      {"rater": "D", "fpr": 0.0537, "tpr": 0.18}, {"rater": "D", "fpr": 0.066, "tpr": 0.18}, {"rater": "D", "fpr": 0.0715, "tpr": 0.1908},
      {"rater": "D", "fpr": 0.0822, "tpr": 0.1908}, {"rater": "D", "fpr": 0.0848, "tpr": 0.254}, {"rater": "D", "fpr": 0.0955, "tpr": 0.254},
      {"rater": "D", "fpr": 0.1053, "tpr": 0.26}, {"rater": "D", "fpr": 0.1053, "tpr": 0.371}, {"rater": "D", "fpr": 0.1388, "tpr": 0.371},
      {"rater": "D", "fpr": 0.145, "tpr": 0.38}, {"rater": "D", "fpr": 0.1497, "tpr": 0.4708}, {"rater": "D", "fpr": 0.169, "tpr": 0.4708},
      {"rater": "D", "fpr": 0.1755, "tpr": 0.5017}, {"rater": "D", "fpr": 0.19, "tpr": 0.5017}, {"rater": "D", "fpr": 0.1951, "tpr": 0.5126},
      {"rater": "D", "fpr": 0.2, "tpr": 0.5126}, {"rater": "D", "fpr": 0.2056, "tpr": 0.5483}, {"rater": "D", "fpr": 0.2299, "tpr": 0.5483},
      {"rater": "D", "fpr": 0.2352, "tpr": 0.5852}, {"rater": "D", "fpr": 0.2849, "tpr": 0.5852}, {"rater": "D", "fpr": 0.2874, "tpr": 0.6047},
      {"rater": "D", "fpr": 0.3, "tpr": 0.6047}, {"rater": "D", "fpr": 0.3143, "tpr": 0.6332}, {"rater": "D", "fpr": 0.3361, "tpr": 0.6332},
      {"rater": "D", "fpr": 0.3415, "tpr": 0.6564}, {"rater": "D", "fpr": 0.35, "tpr": 0.66}, {"rater": "D", "fpr": 0.355, "tpr": 0.68},
      {"rater": "D", "fpr": 0.37, "tpr": 0.68}, {"rater": "D", "fpr": 0.375, "tpr": 0.69}, {"rater": "D", "fpr": 0.4, "tpr": 0.69},
      {"rater": "D", "fpr": 0.405, "tpr": 0.7}, {"rater": "D", "fpr": 0.43, "tpr": 0.7}, {"rater": "D", "fpr": 0.435, "tpr": 0.72},
      {"rater": "D", "fpr": 0.46, "tpr": 0.72}, {"rater": "D", "fpr": 0.47, "tpr": 0.74}, {"rater": "D", "fpr": 0.49, "tpr": 0.75},
      {"rater": "D", "fpr": 0.5, "tpr": 0.76}, {"rater": "D", "fpr": 0.52, "tpr": 0.77}, {"rater": "D", "fpr": 0.5366, "tpr": 0.775},
      {"rater": "D", "fpr": 0.54, "tpr": 0.8123}, {"rater": "D", "fpr": 0.5557, "tpr": 0.8123}, {"rater": "D", "fpr": 0.56, "tpr": 0.83},
      {"rater": "D", "fpr": 0.58, "tpr": 0.835}, {"rater": "D", "fpr": 0.6, "tpr": 0.845}, {"rater": "D", "fpr": 0.62, "tpr": 0.85},
      {"rater": "D", "fpr": 0.64, "tpr": 0.86}, {"rater": "D", "fpr": 0.66, "tpr": 0.87}, {"rater": "D", "fpr": 0.7, "tpr": 0.88},
      {"rater": "D", "fpr": 0.75, "tpr": 0.885}, {"rater": "D", "fpr": 0.78, "tpr": 0.89}, {"rater": "D", "fpr": 0.79, "tpr": 0.9},
      {"rater": "D", "fpr": 0.8, "tpr": 0.925}, {"rater": "D", "fpr": 0.83, "tpr": 0.93}, {"rater": "D", "fpr": 0.85, "tpr": 0.94},
      {"rater": "D", "fpr": 0.86, "tpr": 0.96}, {"rater": "D", "fpr": 0.9, "tpr": 0.97}, {"rater": "D", "fpr": 0.94, "tpr": 0.98},
      {"rater": "D", "fpr": 1, "tpr": 1},

      {"rater": "E", "fpr": 0, "tpr": 0}, {"rater": "E", "fpr": 0.015, "tpr": 0}, {"rater": "E", "fpr": 0.02, "tpr": 0.03},
      {"rater": "E", "fpr": 0.04, "tpr": 0.035}, {"rater": "E", "fpr": 0.05, "tpr": 0.07}, {"rater": "E", "fpr": 0.06, "tpr": 0.08},
      {"rater": "E", "fpr": 0.065, "tpr": 0.13}, {"rater": "E", "fpr": 0.08, "tpr": 0.14}, {"rater": "E", "fpr": 0.09, "tpr": 0.17},
      {"rater": "E", "fpr": 0.1, "tpr": 0.18}, {"rater": "E", "fpr": 0.105, "tpr": 0.21}, {"rater": "E", "fpr": 0.12, "tpr": 0.22},
      {"rater": "E", "fpr": 0.125, "tpr": 0.3}, {"rater": "E", "fpr": 0.135, "tpr": 0.31}, {"rater": "E", "fpr": 0.139, "tpr": 0.395},
      {"rater": "E", "fpr": 0.155, "tpr": 0.395}, {"rater": "E", "fpr": 0.1665, "tpr": 0.4291}, {"rater": "E", "fpr": 0.1705, "tpr": 0.4291},
      {"rater": "E", "fpr": 0.1768, "tpr": 0.4649}, {"rater": "E", "fpr": 0.1903, "tpr": 0.4649}, {"rater": "E", "fpr": 0.1951, "tpr": 0.4985},
      {"rater": "E", "fpr": 0.2027, "tpr": 0.4985}, {"rater": "E", "fpr": 0.2056, "tpr": 0.519}, {"rater": "E", "fpr": 0.2257, "tpr": 0.519},
      {"rater": "E", "fpr": 0.2304, "tpr": 0.5373}, {"rater": "E", "fpr": 0.242, "tpr": 0.5373}, {"rater": "E", "fpr": 0.2467, "tpr": 0.5483},
      {"rater": "E", "fpr": 0.262, "tpr": 0.5483}, {"rater": "E", "fpr": 0.2667, "tpr": 0.5776}, {"rater": "E", "fpr": 0.2763, "tpr": 0.5776},
      {"rater": "E", "fpr": 0.2791, "tpr": 0.6047}, {"rater": "E", "fpr": 0.2854, "tpr": 0.6067}, {"rater": "E", "fpr": 0.3105, "tpr": 0.6067},
      {"rater": "E", "fpr": 0.3143, "tpr": 0.64}, {"rater": "E", "fpr": 0.33, "tpr": 0.64}, {"rater": "E", "fpr": 0.335, "tpr": 0.66},
      {"rater": "E", "fpr": 0.345, "tpr": 0.66}, {"rater": "E", "fpr": 0.35, "tpr": 0.69}, {"rater": "E", "fpr": 0.365, "tpr": 0.69},
      {"rater": "E", "fpr": 0.37, "tpr": 0.7}, {"rater": "E", "fpr": 0.38, "tpr": 0.7}, {"rater": "E", "fpr": 0.39, "tpr": 0.72},
      {"rater": "E", "fpr": 0.41, "tpr": 0.73}, {"rater": "E", "fpr": 0.42, "tpr": 0.75}, {"rater": "E", "fpr": 0.44, "tpr": 0.76},
      {"rater": "E", "fpr": 0.45, "tpr": 0.78}, {"rater": "E", "fpr": 0.47, "tpr": 0.79}, {"rater": "E", "fpr": 0.48, "tpr": 0.8},
      {"rater": "E", "fpr": 0.5, "tpr": 0.8}, {"rater": "E", "fpr": 0.51, "tpr": 0.82}, {"rater": "E", "fpr": 0.53, "tpr": 0.83},
      {"rater": "E", "fpr": 0.55, "tpr": 0.85}, {"rater": "E", "fpr": 0.58, "tpr": 0.86}, {"rater": "E", "fpr": 0.59, "tpr": 0.9},
      {"rater": "E", "fpr": 0.63, "tpr": 0.9}, {"rater": "E", "fpr": 0.65, "tpr": 0.91}, {"rater": "E", "fpr": 0.7, "tpr": 0.92},
      {"rater": "E", "fpr": 0.74, "tpr": 0.93}, {"rater": "E", "fpr": 0.76, "tpr": 0.95}, {"rater": "E", "fpr": 0.8, "tpr": 0.97},
      {"rater": "E", "fpr": 0.82, "tpr": 0.99}, {"rater": "E", "fpr": 0.9, "tpr": 0.995}, {"rater": "E", "fpr": 1, "tpr": 1}
    ],
    "runs": [
      {"run": "1", "fpr": 0, "tpr": 0.1}, {"run": "1", "fpr": 0.015, "tpr": 0.1}, {"run": "1", "fpr": 0.0198, "tpr": 0.238},
      {"run": "1", "fpr": 0.03, "tpr": 0.238}, {"run": "1", "fpr": 0.0367, "tpr": 0.257}, {"run": "1", "fpr": 0.06, "tpr": 0.26},
      {"run": "1", "fpr": 0.0697, "tpr": 0.327}, {"run": "1", "fpr": 0.0868, "tpr": 0.327}, {"run": "1", "fpr": 0.0902, "tpr": 0.3757},
      {"run": "1", "fpr": 0.1008, "tpr": 0.3757}, {"run": "1", "fpr": 0.1053, "tpr": 0.4291}, {"run": "1", "fpr": 0.1206, "tpr": 0.4291},
      {"run": "1", "fpr": 0.1244, "tpr": 0.4638}, {"run": "1", "fpr": 0.1359, "tpr": 0.4638}, {"run": "1", "fpr": 0.1407, "tpr": 0.4736},
      {"run": "1", "fpr": 0.155, "tpr": 0.4736}, {"run": "1", "fpr": 0.1607, "tpr": 0.4985}, {"run": "1", "fpr": 0.1712, "tpr": 0.4985},
      {"run": "1", "fpr": 0.176, "tpr": 0.5278}, {"run": "1", "fpr": 0.1903, "tpr": 0.5278}, {"run": "1", "fpr": 0.1961, "tpr": 0.5429},
      {"run": "1", "fpr": 0.2257, "tpr": 0.5429}, {"run": "1", "fpr": 0.2304, "tpr": 0.5971}, {"run": "1", "fpr": 0.2409, "tpr": 0.5971},
      {"run": "1", "fpr": 0.2457, "tpr": 0.6318}, {"run": "1", "fpr": 0.2753, "tpr": 0.6318}, {"run": "1", "fpr": 0.2801, "tpr": 0.6411},
      {"run": "1", "fpr": 0.3006, "tpr": 0.6465}, {"run": "1", "fpr": 0.3143, "tpr": 0.6664}, {"run": "1", "fpr": 0.3361, "tpr": 0.6664},
      {"run": "1", "fpr": 0.34, "tpr": 0.68}, {"run": "1", "fpr": 0.35, "tpr": 0.7}, {"run": "1", "fpr": 0.37, "tpr": 0.705},
      {"run": "1", "fpr": 0.38, "tpr": 0.72}, {"run": "1", "fpr": 0.41, "tpr": 0.74}, {"run": "1", "fpr": 0.42, "tpr": 0.77},
      {"run": "1", "fpr": 0.44, "tpr": 0.78}, {"run": "1", "fpr": 0.45, "tpr": 0.79}, {"run": "1", "fpr": 0.48, "tpr": 0.8},
      {"run": "1", "fpr": 0.5, "tpr": 0.81}, {"run": "1", "fpr": 0.52, "tpr": 0.83}, {"run": "1", "fpr": 0.55, "tpr": 0.84},
      {"run": "1", "fpr": 0.57, "tpr": 0.87}, {"run": "1", "fpr": 0.6, "tpr": 0.9}, {"run": "1", "fpr": 0.63, "tpr": 0.91},
      {"run": "1", "fpr": 0.66, "tpr": 0.92}, {"run": "1", "fpr": 0.7, "tpr": 0.94}, {"run": "1", "fpr": 0.75, "tpr": 0.945},
      {"run": "1", "fpr": 0.8, "tpr": 0.97}, {"run": "1", "fpr": 0.85, "tpr": 0.98}, {"run": "1", "fpr": 0.9, "tpr": 0.99},
      {"run": "1", "fpr": 1, "tpr": 1},

      {"run": "2", "fpr": 0, "tpr": 0.1}, {"run": "2", "fpr": 0.02, "tpr": 0.1}, {"run": "2", "fpr": 0.0251, "tpr": 0.1018},
      {"run": "2", "fpr": 0.0269, "tpr": 0.1652}, {"run": "2", "fpr": 0.0403, "tpr": 0.1652}, {"run": "2", "fpr": 0.0448, "tpr": 0.187},
      {"run": "2", "fpr": 0.0537, "tpr": 0.187}, {"run": "2", "fpr": 0.0544, "tpr": 0.207}, {"run": "2", "fpr": 0.0706, "tpr": 0.2084},
      {"run": "2", "fpr": 0.0733, "tpr": 0.2178}, {"run": "2", "fpr": 0.0804, "tpr": 0.2178}, {"run": "2", "fpr": 0.0858, "tpr": 0.2484},
      {"run": "2", "fpr": 0.1008, "tpr": 0.2484}, {"run": "2", "fpr": 0.105, "tpr": 0.27}, {"run": "2", "fpr": 0.12, "tpr": 0.28},
      {"run": "2", "fpr": 0.125, "tpr": 0.3}, {"run": "2", "fpr": 0.155, "tpr": 0.3}, {"run": "2", "fpr": 0.16, "tpr": 0.36},
      {"run": "2", "fpr": 0.1665, "tpr": 0.3836}, {"run": "2", "fpr": 0.1665, "tpr": 0.4172}, {"run": "2", "fpr": 0.1804, "tpr": 0.4378},
      {"run": "2", "fpr": 0.1951, "tpr": 0.4432}, {"run": "2", "fpr": 0.2333, "tpr": 0.4432}, {"run": "2", "fpr": 0.2362, "tpr": 0.4703},
      {"run": "2", "fpr": 0.2486, "tpr": 0.5267}, {"run": "2", "fpr": 0.2562, "tpr": 0.5267}, {"run": "2", "fpr": 0.262, "tpr": 0.5386},
      {"run": "2", "fpr": 0.2705, "tpr": 0.5386}, {"run": "2", "fpr": 0.2744, "tpr": 0.583}, {"run": "2", "fpr": 0.2849, "tpr": 0.583},
      {"run": "2", "fpr": 0.2877, "tpr": 0.5938}, {"run": "2", "fpr": 0.2979, "tpr": 0.5949}, {"run": "2", "fpr": 0.31, "tpr": 0.6},
      {"run": "2", "fpr": 0.315, "tpr": 0.63}, {"run": "2", "fpr": 0.34, "tpr": 0.64}, {"run": "2", "fpr": 0.35, "tpr": 0.67},
      {"run": "2", "fpr": 0.37, "tpr": 0.68}, {"run": "2", "fpr": 0.38, "tpr": 0.7}, {"run": "2", "fpr": 0.4, "tpr": 0.71},
      {"run": "2", "fpr": 0.42, "tpr": 0.73}, {"run": "2", "fpr": 0.44, "tpr": 0.75}, {"run": "2", "fpr": 0.45, "tpr": 0.77},
      {"run": "2", "fpr": 0.48, "tpr": 0.78}, {"run": "2", "fpr": 0.5, "tpr": 0.79}, {"run": "2", "fpr": 0.53, "tpr": 0.8},
      {"run": "2", "fpr": 0.55, "tpr": 0.82}, {"run": "2", "fpr": 0.58, "tpr": 0.85}, {"run": "2", "fpr": 0.6, "tpr": 0.87},
      {"run": "2", "fpr": 0.63, "tpr": 0.89}, {"run": "2", "fpr": 0.66, "tpr": 0.92}, {"run": "2", "fpr": 0.7, "tpr": 0.935},
      {"run": "2", "fpr": 0.75, "tpr": 0.94}, {"run": "2", "fpr": 0.8, "tpr": 0.955}, {"run": "2", "fpr": 0.85, "tpr": 0.97},
      {"run": "2", "fpr": 0.9, "tpr": 0.985}, {"run": "2", "fpr": 1, "tpr": 1}
    ],
    "chance": [
      {"fpr": 0, "tpr": 0},
      {"fpr": 1, "tpr": 1}
    ]
  },
  "encoding": {
    "x": {
      "field": "fpr",
      "type": "quantitative",
      "scale": {"domain": [0, 1], "nice": false, "zero": false},
      "axis": {
        "values": [0, 0.2, 0.4, 0.6, 0.8, 1],
        "format": ".1f",
        "grid": false,
        "domainColor": "black",
        "domainWidth": 6,
        "tickColor": "black",
        "tickWidth": 3,
        "tickSize": -25,
        "labelFont": "DejaVu Sans",
        "labelFontSize": 80,
        "labelColor": "black",
        "labelBaseline": "alphabetic",
        "labelPadding": 115,
        "labelFlush": false,
        "labelOverlap": false,
        "labelBound": false,
        "title": "FPR (% of non-hypoxic cases incorrectly predicted)",
        "titleFont": "DejaVu Sans",
        "titleFontSize": 80,
        "titleFontWeight": "normal",
        "titleColor": "black",
        "titleAlign": "left",
        "titleBaseline": "alphabetic",
        "titleX": -16,
        "titleY": 171,
        "zindex": 1
      }
    },
    "y": {
      "field": "tpr",
      "type": "quantitative",
      "scale": {"domain": [0, 1], "nice": false, "zero": false},
      "axis": {
        "values": [0, 0.2, 0.4, 0.6, 0.8, 1],
        "format": ".1f",
        "grid": false,
        "domainColor": "black",
        "domainWidth": 6,
        "tickColor": "black",
        "tickWidth": 3,
        "tickSize": -25,
        "labelFont": "DejaVu Sans",
        "labelFontSize": 80,
        "labelColor": "black",
        "labelBaseline": "alphabetic",
        "labelOffset": 21,
        "labelPadding": 52,
        "labelFlush": false,
        "labelOverlap": false,
        "labelBound": false,
        "title": "TPR (% of hypoxic cases correctly predicted)",
        "titleFont": "DejaVu Sans",
        "titleFontSize": 80,
        "titleFontWeight": "normal",
        "titleColor": "black",
        "titleAngle": -90,
        "titleAlign": "left",
        "titleBaseline": "alphabetic",
        "titleX": -205,
        "titleY": 1615,
        "zindex": 1
      }
    }
  },
  "layer": [
    {
      "data": {"name": "raters"},
      "mark": {"type": "line", "color": "#1F73F0", "opacity": 0.2, "strokeWidth": 6, "strokeJoin": "round", "clip": true},
      "encoding": {"detail": {"field": "rater"}}
    },
    {
      "data": {"name": "runs"},
      "mark": {"type": "line", "color": "#A0EB37", "opacity": 0.12, "strokeWidth": 6, "strokeJoin": "round", "clip": true},
      "encoding": {"detail": {"field": "run"}}
    },
    {
      "data": {"name": "main"},
      "mark": {"type": "line", "strokeWidth": 13, "strokeJoin": "round", "strokeCap": "square", "clip": true},
      "encoding": {
        "color": {
          "field": "model",
          "type": "nominal",
          "scale": {
            "domain": ["Anesthesiologist (AU-ROC 0.659)", "LSTM (AU-ROC 0.731)"],
            "range": ["#1F73F0", "#A0EB37"]
          },
          "legend": {
            "title": null,
            "orient": "none",
            "legendX": 760,
            "legendY": 1273,
            "padding": 0,
            "symbolType": "stroke",
            "symbolSize": 4900,
            "symbolStrokeWidth": 13,
            "labelFont": "DejaVu Sans",
            "labelFontSize": 73,
            "labelColor": "black",
            "labelOffset": 26,
            "labelLimit": 2000,
            "rowPadding": 28
          }
        }
      }
    },
    {
      "data": {"name": "chance"},
      "mark": {"type": "line", "color": "#666666", "strokeWidth": 6, "strokeDash": [40, 40], "clip": true},
      "encoding": {}
    }
  ]
}
